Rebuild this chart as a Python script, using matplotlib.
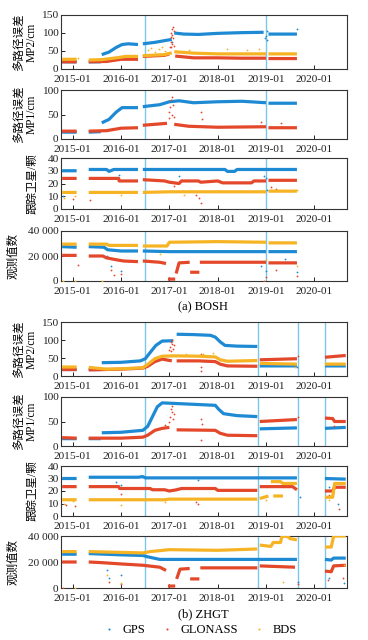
import numpy as np
import matplotlib
matplotlib.use("Agg")
import matplotlib.pyplot as plt
from matplotlib.lines import Line2D

plt.rcParams['font.family'] = ['Liberation Serif', 'Noto Sans CJK SC']
plt.rcParams['font.size'] = 8.2

# ---- data: (decimal year, value), None = gap ----
# BOSH
bosh_mp2_gps = [(2014.78, 20), (2015.08, 20), None, (2015.33, 20), (2015.58, 20), None,
                (2015.6, 40), (2015.75, 47), (2015.9, 60), (2016.02, 68), (2016.15, 70), (2016.35, 68), None,
                (2016.45, 70), (2016.7, 74), (2016.95, 80), (2017.05, 82), None,
                (2017.1, 100), (2017.3, 97), (2017.6, 96), (2018.0, 99), (2018.5, 101), (2018.95, 102), None,
                (2019.05, 97), (2019.64, 97)]
bosh_mp2_glo = [(2014.78, 20), (2015.08, 20), None, (2015.33, 20), (2015.7, 21), (2016.0, 27), (2016.35, 27), None,
                (2016.45, 35), (2016.9, 38), (2017.0, 42), None,
                (2017.12, 36), (2017.5, 31), (2018.0, 31), (2018.5, 30), (2019.0, 30), None,
                (2019.05, 29), (2019.64, 29)]
bosh_mp2_bds = [(2014.78, 27), (2015.08, 27), None, (2015.33, 25), (2015.6, 26), (2015.9, 31), (2016.1, 35),
                (2016.35, 35), None, (2016.45, 37), (2016.9, 40), (2017.05, 45), None,
                (2017.1, 48), (2017.5, 44), (2018.0, 42), (2019.0, 42), None, (2019.05, 42), (2019.64, 42)]
bosh_mp2_out = {
    'gps': [(2018.98, 85), (2019.0, 92), (2019.02, 105), (2019.01, 80), (2017.05, 75), (2019.64, 112)],
    'glo': [(2017.02, 62), (2017.03, 75), (2017.04, 88), (2017.05, 95), (2017.06, 110), (2017.07, 118),
            (2017.08, 85), (2017.05, 70), (2017.09, 105), (2017.1, 65), (2017.04, 100), (2017.03, 60)],
    'bds': [(2016.55, 52), (2016.62, 58), (2016.7, 48), (2016.78, 55), (2016.85, 60), (2016.9, 50),
            (2017.4, 53), (2018.2, 55), (2018.6, 52), (2018.85, 56), (2015.1, 30)],
}

bosh_mp1_gps = [(2014.78, 14), (2015.08, 14), None, (2015.33, 14), (2015.58, 15), None,
                (2015.6, 33), (2015.75, 40), (2015.9, 55), (2016.02, 64), (2016.35, 64), None,
                (2016.45, 66), (2016.8, 70), (2017.0, 76), (2017.2, 78), (2017.5, 74), (2018.0, 76),
                (2018.5, 77), (2019.0, 74), None, (2019.05, 73), (2019.64, 73)]
bosh_mp1_glo = [(2014.78, 16), (2015.08, 16), None, (2015.33, 16), (2015.7, 17), (2016.0, 22), (2016.35, 23), None,
                (2016.45, 28), (2016.95, 32), None, (2017.1, 30), (2017.4, 26), (2018.0, 24), (2019.0, 25), None,
                (2019.05, 23), (2019.64, 23)]
bosh_mp1_bds = []
bosh_mp1_out = {
    'gps': [],
    'glo': [(2016.99, 42), (2017.0, 55), (2017.02, 65), (2017.03, 80), (2017.05, 85), (2017.06, 50),
            (2017.08, 70), (2017.1, 45), (2017.65, 55), (2017.68, 40), (2018.9, 35), (2019.3, 32)],
    'bds': [],
}

bosh_trk_gps = [(2014.78, 30), (2015.08, 30), None, (2015.33, 31), (2015.7, 31), (2015.75, 29.5), (2015.85, 31),
                (2016.35, 31), None, (2016.45, 31), (2018.15, 31), (2018.2, 29.5), (2018.35, 29.5),
                (2018.4, 31), (2019.64, 31)]
bosh_trk_glo = [(2014.78, 24), (2015.08, 24), None, (2015.33, 24), (2015.95, 24), (2015.96, 22), (2016.35, 22), None,
                (2016.45, 23), (2016.9, 22), (2017.0, 21), (2017.2, 20), (2017.25, 22), (2017.6, 22),
                (2017.65, 21), (2018.0, 22), (2018.1, 20.5), (2018.7, 20.5), (2018.75, 22), (2019.0, 22), None,
                (2019.05, 22.5), (2019.64, 22.5)]
bosh_trk_bds = [(2014.78, 13), (2015.08, 13), None, (2015.33, 13), (2016.35, 13), None,
                (2016.45, 13), (2017.0, 13.5), (2019.0, 13.5), None, (2019.05, 14), (2019.64, 14)]
bosh_trk_out = {
    'gps': [(2015.95, 27), (2017.2, 26), (2018.95, 26), (2019.0, 24), (2019.02, 15), (2014.8, 10)],
    'glo': [(2015.0, 8), (2015.35, 7), (2017.1, 18), (2017.55, 11), (2017.62, 9), (2017.65, 5),
            (2019.1, 17), (2019.2, 16)],
    'bds': [(2014.82, 9), (2015.05, 10), (2016.0, 11), (2017.3, 11), (2019.64, 15)],
}

bosh_obs_gps = [(2014.78, 27500), (2015.08, 27000), None, (2015.33, 27500), (2015.65, 27000), (2015.72, 25000),
                (2016.0, 24000), (2016.35, 24000), None, (2016.45, 24000), (2017.0, 23500), (2019.0, 23500), None,
                (2019.05, 23500), (2019.64, 23500)]
bosh_obs_glo = [(2014.78, 20500), (2015.08, 20500), None, (2015.33, 20000), (2015.62, 20000), (2015.7, 18500),
                (2015.9, 17000), (2016.05, 16000), (2016.35, 15500), None, (2016.45, 16000), (2016.8, 15000),
                (2016.93, 14000), None, (2016.97, 1500), (2017.12, 1500), None, (2017.14, 6000), (2017.2, 14500),
                (2017.42, 15000), None, (2017.43, 7000), (2017.62, 7000), None, (2017.63, 15000), (2019.0, 15000),
                None, (2019.05, 14500), (2019.64, 14500)]
bosh_obs_bds = [(2014.78, 29500), (2015.08, 29500), None, (2015.33, 29500), (2015.7, 29500), (2015.75, 28500),
                (2016.35, 28500), None, (2016.45, 28000), (2016.95, 28000), (2017.0, 31000), (2018.0, 31500),
                (2019.0, 31000), None, (2019.05, 30500), (2019.64, 30500)]
bosh_obs_out = {
    'gps': [(2015.7, 20000), (2015.8, 12000), (2016.0, 8000), (2018.9, 12000), (2019.0, 8000), (2019.64, 7000),
            (2019.4, 18000)],
    'glo': [(2015.1, 13000), (2015.8, 9000), (2015.85, 5000), (2016.0, 6000), (2019.0, 3000), (2019.2, 9000),
            (2019.64, 4000), (2018.95, 0)],
    'bds': [(2014.8, 0), (2015.05, 0), (2015.6, 0), (2016.8, 22000), (2019.0, 17000), (2019.64, 12000)],
}

# ZHGT
zhgt_mp2_gps = [(2014.78, 18), (2015.08, 18), None, (2015.33, 18), (2015.58, 18), None,
                (2015.6, 37), (2016.0, 38), (2016.4, 42), (2016.5, 48), (2016.6, 65), (2016.72, 85), (2016.85, 97),
                (2017.08, 98), None, (2017.15, 116), (2017.5, 115), (2017.85, 113), (2017.95, 108),
                (2018.05, 95), (2018.15, 85), (2018.4, 83), (2018.82, 82), None,
                (2018.87, 28), (2019.64, 28), None, (2020.22, 28), (2020.65, 28)]
zhgt_mp2_glo = [(2014.78, 18), (2015.08, 18), None, (2015.33, 17), (2016.0, 19), (2016.45, 22), (2016.55, 27),
                (2016.7, 40), (2016.85, 47), (2017.05, 42), None, (2017.15, 42), (2017.6, 42), (2017.95, 40),
                (2018.05, 33), (2018.2, 28), (2018.82, 27), None, (2018.87, 45), (2019.64, 48), None,
                (2020.22, 52), (2020.65, 57)]
zhgt_mp2_bds = [(2014.78, 25), (2015.08, 25), None, (2015.33, 24), (2015.7, 19), (2016.0, 20), (2016.45, 23),
                (2016.55, 32), (2016.7, 48), (2016.85, 55), (2017.1, 56), (2017.6, 55), (2017.95, 53),
                (2018.05, 45), (2018.2, 41), (2018.82, 43), None, (2018.87, 35), (2019.64, 33), None,
                (2020.22, 33), (2020.65, 33)]
zhgt_mp2_out = {
    'gps': [(2019.65, 25)],
    'glo': [(2017.0, 72), (2017.02, 80), (2017.03, 95), (2017.05, 88), (2017.06, 100), (2017.08, 76),
            (2017.1, 85), (2017.04, 70), (2017.65, 15), (2017.66, 25), (2017.65, 62), (2019.66, 55)],
    'bds': [(2017.35, 62), (2017.7, 60), (2017.9, 65), (2019.6, 26)],
}

zhgt_mp1_gps = [(2014.78, 15), (2015.08, 15), None, (2015.33, 15), (2015.58, 15), None,
                (2015.6, 27), (2016.0, 28), (2016.45, 32), (2016.55, 40), (2016.65, 60), (2016.75, 80),
                (2016.85, 88), (2017.3, 86), (2017.95, 83), (2018.02, 75), (2018.12, 66), (2018.4, 62),
                (2018.82, 60), None, (2018.87, 35), (2019.64, 37), None, (2020.22, 36), (2020.65, 38)]
zhgt_mp1_glo = [(2014.78, 17), (2015.08, 16), None, (2015.33, 16), (2016.0, 16), (2016.45, 18), (2016.55, 22),
                (2016.7, 32), (2016.85, 36), (2017.0, 38), None, (2017.15, 33), (2017.95, 32), (2018.05, 26),
                (2018.2, 22), (2018.82, 21), None, (2018.87, 50), (2019.64, 54), None,
                (2020.22, 57), (2020.38, 56), (2020.42, 50), (2020.65, 50)]
zhgt_mp1_bds = []
zhgt_mp1_out = {
    'gps': [],
    'glo': [(2017.0, 48), (2017.02, 60), (2017.03, 75), (2017.05, 82), (2017.06, 70), (2017.08, 55),
            (2017.1, 65), (2016.9, 42), (2017.65, 13), (2017.65, 55), (2017.67, 45), (2019.66, 60),
            (2020.4, 40)],
    'bds': [],
}

zhgt_trk_gps = [(2014.78, 30), (2015.08, 30), None, (2015.33, 31), (2016.35, 31), (2016.45, 31.5), (2016.5, 30.5),
                (2019.64, 30.5), None, (2020.22, 30), (2020.65, 29.5)]
zhgt_trk_glo = [(2014.78, 23.5), (2015.08, 23.5), None, (2015.33, 23.5), (2015.95, 23.5), (2015.97, 22),
                (2016.6, 22), (2016.65, 21), (2016.9, 21), (2017.0, 20), (2017.15, 21), (2017.25, 22),
                (2017.95, 22), (2018.0, 20.5), (2018.82, 20.5), None, (2018.87, 23.5), (2019.55, 23.5),
                (2019.64, 21), None, (2020.22, 20), (2020.38, 20), (2020.42, 23), (2020.65, 23)]
zhgt_trk_bds = [(2014.78, 13), (2015.08, 13), None, (2015.33, 13), (2016.9, 13), (2017.0, 13.5), (2018.82, 13.5),
                None, (2018.87, 14), (2019.05, 16), None, (2019.1, 27.5), (2019.3, 27.5), (2019.35, 26),
                (2019.64, 26), None, (2019.15, 16), (2019.35, 16), None, (2020.22, 15), (2020.38, 15),
                (2020.42, 26), (2020.65, 26)]
zhgt_trk_out = {
    'gps': [(2015.9, 27), (2016.0, 25), (2017.6, 29), (2019.7, 15), (2020.3, 23), (2020.5, 10)],
    'glo': [(2014.85, 9), (2015.05, 8), (2016.0, 18), (2017.55, 11), (2017.6, 10), (2020.3, 17),
            (2020.35, 16), (2020.52, 6)],
    'bds': [(2014.82, 10), (2015.0, 12), (2016.0, 9), (2016.9, 11), (2020.3, 13), (2019.0, 13)],
}

zhgt_obs_gps = [(2014.78, 26000), (2015.08, 26000), None, (2015.33, 26500), (2016.0, 25500), (2016.45, 25000),
                (2016.55, 24000), (2016.8, 22000), (2019.64, 22000), None, (2020.22, 22000), (2020.35, 21500),
                (2020.4, 23000), (2020.65, 23000)]
zhgt_obs_glo = [(2014.78, 20000), (2015.08, 20000), None, (2015.33, 20000), (2015.6, 19500), (2016.0, 18500),
                (2016.45, 17500), (2016.8, 16000), (2016.93, 13500), None, (2016.97, 1500), (2017.12, 1500), None,
                (2017.15, 7000), (2017.22, 14500), (2017.42, 15000), None, (2017.43, 7000), (2017.62, 7000), None,
                (2017.64, 15500), (2018.82, 15500), None, (2018.87, 17000), (2019.6, 16000), None,
                (2020.22, 13000), (2020.35, 12500), (2020.4, 17000), (2020.65, 17500)]
zhgt_obs_bds = [(2014.78, 28000), (2015.08, 28000), None, (2015.33, 28000), (2016.45, 27000), (2016.6, 28000),
                (2017.0, 29500), (2018.0, 29000), (2018.82, 30000), None, (2018.87, 33000), (2019.1, 32000),
                (2019.15, 35000), (2019.3, 35000), (2019.33, 40000), (2019.45, 39500), (2019.5, 38000),
                (2019.64, 37000), None, (2020.22, 31500), (2020.35, 31500), (2020.4, 40000), (2020.65, 40000)]
zhgt_obs_out = {
    'gps': [(2015.7, 14000), (2015.75, 8000), (2016.0, 10000), (2019.66, 5000), (2020.3, 8000), (2020.62, 4000)],
    'glo': [(2014.8, 0), (2015.75, 5000), (2016.0, 3000), (2019.67, 3000), (2020.28, 6000), (2020.6, 8000)],
    'bds': [(2015.05, 0), (2015.7, 10000), (2016.0, 4000), (2019.35, 5000), (2020.62, 18000)],
}

bosh_events = [2016.5, 2018.99]
zhgt_events = [2016.5, 2018.83, 2019.66, 2020.22]

systems = ['GPS', 'GLONASS', 'BDS']
colors = {'gps': '#1e8ad3', 'glo': '#e4482a', 'bds': '#f6b425'}
event_color = '#7cc6e8'

x_ticks = [2015, 2016, 2017, 2018, 2019, 2020]
x_labels = ['2015-01', '2016-01', '2017-01', '2018-01', '2019-01', '2020-01']

W, H = 368, 640
fig = plt.figure(figsize=(W / 100, H / 100), dpi=100)


def split(pts):
    t = [p[0] if p else np.nan for p in pts]
    v = [p[1] if p else np.nan for p in pts]
    return t, v


def panel(top, bottom, series, outliers, events, ylim, yticks, yticklabels):
    ax = fig.add_axes([60.7 / W, 1 - bottom / H, 286 / W, (bottom - top) / H])
    for key in ['gps', 'glo', 'bds']:
        if series[key]:
            t, v = split(series[key])
            ax.plot(t, v, color=colors[key], lw=2.3, solid_capstyle='butt', zorder=3)
        if outliers[key]:
            t, v = split(outliers[key])
            ax.plot(t, v, '.', color=colors[key], ms=2.6, mew=0, zorder=3)
    for e in events:
        ax.axvline(e, color=event_color, lw=1.0, zorder=2)
    ax.set_xlim(2014.75, 2020.67)
    ax.set_ylim(*ylim)
    ax.set_xticks(x_ticks)
    ax.set_xticklabels(x_labels)
    ax.set_yticks(yticks)
    ax.set_yticklabels(yticklabels)
    ax.tick_params(direction='in', length=3, width=0.7, labelsize=8.2, colors='#222222')
    ax.tick_params(axis='x', pad=4.4)
    ax.tick_params(axis='y', pad=1.5)
    for s in ax.spines.values():
        s.set_color('#333333')
        s.set_linewidth(0.8)
    return ax


def ylab(x, top, bottom, text):
    fig.text(x / W, 1 - (top + bottom) / 2 / H, text, rotation=90, ha='center', va='center', fontsize=8.3)


stations = [
    (0, (bosh_mp2_gps, bosh_mp2_glo, bosh_mp2_bds, bosh_mp2_out),
     (bosh_mp1_gps, bosh_mp1_glo, bosh_mp1_bds, bosh_mp1_out),
     (bosh_trk_gps, bosh_trk_glo, bosh_trk_bds, bosh_trk_out),
     (bosh_obs_gps, bosh_obs_glo, bosh_obs_bds, bosh_obs_out), bosh_events, '(a) BOSH'),
    (307, (zhgt_mp2_gps, zhgt_mp2_glo, zhgt_mp2_bds, zhgt_mp2_out),
     (zhgt_mp1_gps, zhgt_mp1_glo, zhgt_mp1_bds, zhgt_mp1_out),
     (zhgt_trk_gps, zhgt_trk_glo, zhgt_trk_bds, zhgt_trk_out),
     (zhgt_obs_gps, zhgt_obs_glo, zhgt_obs_bds, zhgt_obs_out), zhgt_events, '(b) ZHGT'),
]

for off, mp2, mp1, trk, obs, events, caption in stations:
    boxes = [(15, 69), (90, 139), (158, 209), (231, 281)]
    if off:
        boxes = [(322, 376), (397, 446), (466, 516), (536, 588)]
    specs = [
        (mp2, (0, 150), [0, 50, 100, 150], ['0', '50', '100', '150']),
        (mp1, (0, 100), [0, 50, 100], ['0', '50', '100']),
        (trk, (0, 40), [0, 10, 20, 30, 40], ['0', '10', '20', '30', '40']),
        (obs, (0, 40000), [0, 20000, 40000], ['0', '20 000', '40 000']),
    ]
    for (top, bottom), (data, ylim, yt, ytl) in zip(boxes, specs):
        series = {'gps': data[0], 'glo': data[1], 'bds': data[2]}
        panel(top, bottom, series, data[3], events, ylim, yt, ytl)
    (t1, b1), (t2, b2), (t3, b3), (t4, b4) = boxes
    ylab(19, t1, b1, '多路径误差')
    ylab(32, t1, b1, 'MP2/cm')
    ylab(19, t2, b2, '多路径误差')
    ylab(32, t2, b2, 'MP1/cm')
    ylab(33, t3, b3, '跟踪卫星/颗')
    ylab(13, t4, b4, '观测值数')
    fig.text(203 / W, 1 - (b4 + 26) / H, caption, ha='center', va='center', fontsize=9)

handles = [Line2D([], [], ls='none', marker='.', ms=3, mew=0, color=colors[k]) for k in ['gps', 'glo', 'bds']]
fig.legend(handles, systems, loc='center', bbox_to_anchor=(200 / W, 1 - 630 / H), ncol=3, frameon=False,
           fontsize=9, handletextpad=0.6, columnspacing=1.2, handlelength=1.0)

fig.savefig('out.png', dpi=100)
